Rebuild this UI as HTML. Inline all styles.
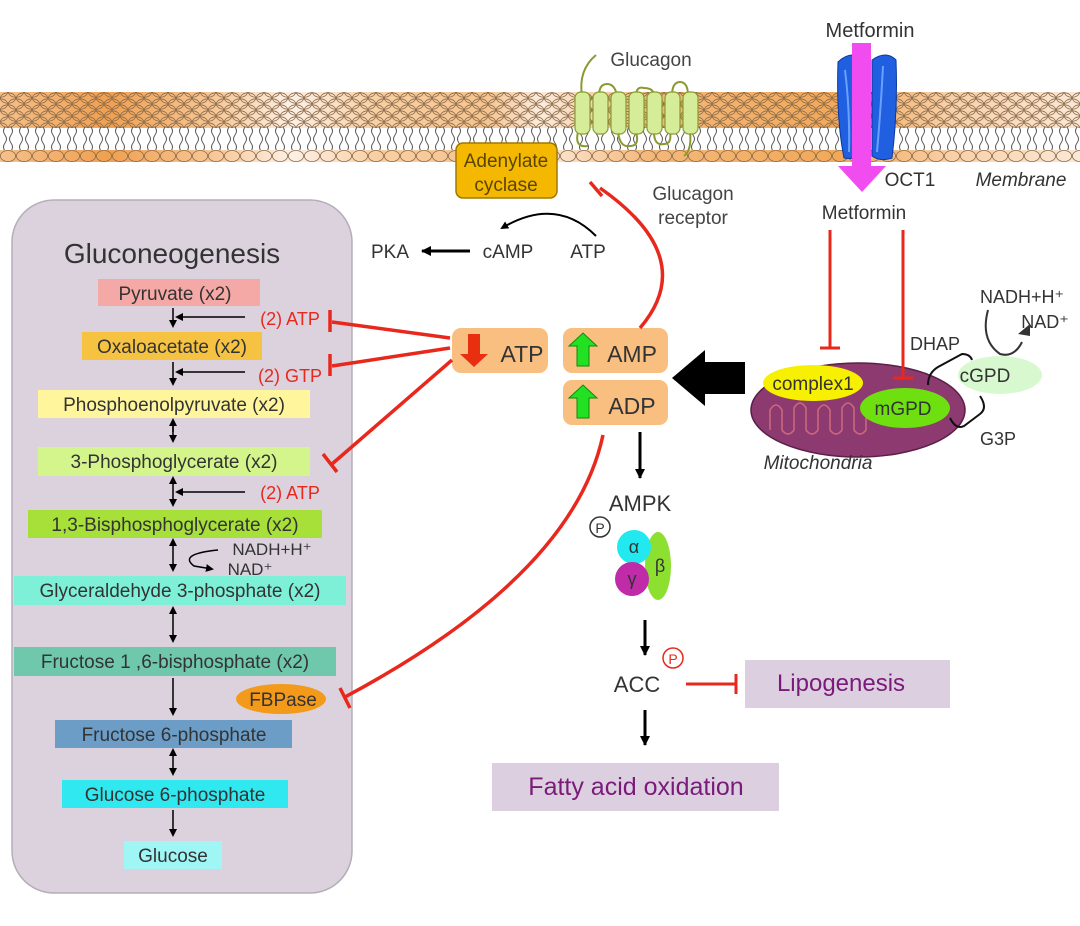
<!DOCTYPE html>
<html><head><meta charset="utf-8"><style>
html,body{margin:0;padding:0;background:#fff;width:1080px;height:926px;overflow:hidden}
svg{display:block}
text{font-family:"Liberation Sans",sans-serif}
</style></head><body>
<svg width="1080" height="926" viewBox="0 0 1080 926" xmlns="http://www.w3.org/2000/svg">
<defs>
<linearGradient id="mg" x1="0" x2="1" y1="0" y2="0">
<stop offset="0" stop-color="#f6c08a"/><stop offset="0.1" stop-color="#f0a050"/><stop offset="0.2" stop-color="#f7c898"/>
<stop offset="0.27" stop-color="#fdf0e6"/><stop offset="0.35" stop-color="#f8cfa2"/><stop offset="0.45" stop-color="#f6c48e"/>
<stop offset="0.5" stop-color="#fcebdc"/><stop offset="0.6" stop-color="#f4b87a"/><stop offset="0.78" stop-color="#f2a858"/>
<stop offset="0.88" stop-color="#f8d0a8"/><stop offset="1" stop-color="#fbe8d6"/></linearGradient>
<pattern id="heads" patternUnits="userSpaceOnUse" width="16" height="12" x="0" y="92">
<ellipse cx="8" cy="6" rx="7.6" ry="5.2" fill="none" stroke="#8a6a4a" stroke-width="0.8"/>
<ellipse cx="0" cy="0" rx="7.6" ry="5.2" fill="none" stroke="#8a6a4a" stroke-width="0.8"/>
<ellipse cx="16" cy="0" rx="7.6" ry="5.2" fill="none" stroke="#8a6a4a" stroke-width="0.8"/>
<ellipse cx="0" cy="12" rx="7.6" ry="5.2" fill="none" stroke="#8a6a4a" stroke-width="0.8"/>
<ellipse cx="16" cy="12" rx="7.6" ry="5.2" fill="none" stroke="#8a6a4a" stroke-width="0.8"/></pattern>
<pattern id="heads2" patternUnits="userSpaceOnUse" width="16" height="12" x="0" y="150">
<ellipse cx="8" cy="6" rx="7.6" ry="5.5" fill="none" stroke="#8a6a4a" stroke-width="0.8"/></pattern>
<pattern id="tails" patternUnits="userSpaceOnUse" width="16" height="24" x="0" y="127">
<path d="M5 0 q-3 4 0 8 q3 4 0 8 q-3 4 0 8 M11 0 q3 4 0 8 q-3 4 0 8 q3 4 0 8" fill="none" stroke="#555" stroke-width="1"/></pattern>
<marker id="ah" markerWidth="8" markerHeight="8" refX="6" refY="4" orient="auto" markerUnits="userSpaceOnUse"><path d="M0 0 L8 4 L0 8 Z" fill="#000"/></marker>
<marker id="ahs" markerWidth="10" markerHeight="10" refX="9" refY="5" orient="auto" markerUnits="userSpaceOnUse"><path d="M0 0 L10 5 L0 10 Z" fill="#000"/></marker>
</defs>

<!-- membrane -->
<rect x="0" y="92" width="1080" height="36" fill="url(#mg)"/>
<rect x="0" y="92" width="1080" height="36" fill="url(#heads)"/>
<rect x="0" y="128" width="1080" height="22" fill="#fff"/>
<rect x="0" y="127" width="1080" height="23" fill="url(#tails)"/>
<rect x="0" y="150" width="1080" height="12" fill="url(#mg)"/>
<rect x="0" y="150" width="1080" height="12" fill="url(#heads2)"/>

<!-- glucagon receptor -->
<g stroke="#8a9a30" stroke-width="2" fill="none">
<path d="M582 96 Q578 70 596 55"/>
<path d="M599 96 q0-12 8-12 q8 0 10 12"/><path d="M636 96 q0-10 8-8 q10 0 10 8"/><path d="M672 96 q0-14 8-14 q8 0 8 14"/>
<path d="M618 132 q2 16 12 14 q10 0 6-14"/><path d="M654 132 q0 14 10 12 q8 0 6-12"/><path d="M690 132 q2 18-6 24"/>
<path d="M578 132 q-4 16 10 14"/>
</g>
<g fill="#d5ec98" stroke="#8a9a30" stroke-width="1.2">
<rect x="575" y="92" width="15" height="42" rx="6"/><rect x="593" y="92" width="15" height="42" rx="6"/><rect x="611" y="92" width="15" height="42" rx="6"/>
<rect x="629" y="92" width="15" height="42" rx="6"/><rect x="647" y="92" width="15" height="42" rx="6"/><rect x="665" y="92" width="15" height="42" rx="6"/><rect x="683" y="92" width="15" height="42" rx="6"/>
</g>
<text x="651" y="66" font-size="19" fill="#444" text-anchor="middle">Glucagon</text>
<text x="693" y="200" font-size="19" fill="#444" text-anchor="middle">Glucagon</text>
<text x="693" y="224" font-size="19" fill="#444" text-anchor="middle">receptor</text>

<!-- adenylate cyclase -->
<rect x="456" y="143" width="101" height="55" rx="7" fill="#f5b800" stroke="#a07800" stroke-width="1.5"/>
<text x="506" y="167" font-size="19" fill="#5a4500" text-anchor="middle">Adenylate</text>
<text x="506" y="191" font-size="19" fill="#5a4500" text-anchor="middle">cyclase</text>

<!-- OCT1 and metformin -->
<text x="870" y="37" font-size="20" fill="#333" text-anchor="middle">Metformin</text>
<path d="M838 62 q10-10 22-6 l0 98 q-5 6-16 4 q-8-40-6-96z" fill="#1f5fe0" stroke="#0a3aa0"/>
<path d="M872 60 q14-10 24 0 q2 50-4 98 q-12 4-20-2z" fill="#1f5fe0" stroke="#0a3aa0"/>
<path d="M845 70 q5 40 4 82" stroke="#6aa0ff" stroke-width="2" fill="none"/>
<path d="M883 66 q-2 40-6 86" stroke="#6aa0ff" stroke-width="2" fill="none"/>
<rect x="852" y="43" width="19" height="125" fill="#f04cf0"/>
<path d="M838 166 L886 166 L862 192 Z" fill="#f04cf0"/>
<text x="910" y="186" font-size="19" fill="#333" text-anchor="middle">OCT1</text>
<text x="1021" y="186" font-size="19" fill="#333" font-style="italic" text-anchor="middle">Membrane</text>
<text x="864" y="219" font-size="19" fill="#333" text-anchor="middle">Metformin</text>

<!-- mitochondria -->
<ellipse cx="858" cy="410" rx="107" ry="47" fill="#8c3a70" stroke="#5a2048" stroke-width="1.5"/>
<path d="M770 430 v-20 q6-10 12 0 v20 q6 8 12 0 v-22 q6-10 12 0 v22 q6 8 12 0 v-20 q6-10 12 0 v20 q6 8 12 0 v-22 q6-10 12 0 v22 q6 8 12 0 v-20" stroke="#d06a7a" stroke-width="1.5" fill="none"/>
<ellipse cx="813" cy="383" rx="50" ry="18" fill="#f7f000"/>
<text x="813" y="390" font-size="19" fill="#333" text-anchor="middle">complex1</text>
<ellipse cx="905" cy="408" rx="45" ry="20" fill="#6ee010"/>
<text x="903" y="415" font-size="19" fill="#333" text-anchor="middle">mGPD</text>
<ellipse cx="1000" cy="375" rx="42" ry="19" fill="#d8f8d0"/>
<text x="985" y="382" font-size="19" fill="#333" text-anchor="middle">cGPD</text>
<text x="935" y="350" font-size="18" fill="#333" text-anchor="middle">DHAP</text>
<text x="998" y="445" font-size="18" fill="#333" text-anchor="middle">G3P</text>
<text x="1022" y="303" font-size="18" fill="#333" text-anchor="middle">NADH+H⁺</text>
<text x="1045" y="328" font-size="18" fill="#333" text-anchor="middle">NAD⁺</text>
<g stroke="#111" stroke-width="2" fill="none">
<path d="M928 385 q0-12 10-18 l24-13 q8 0 10 6"/>
<path d="M950 418 q6 12 14 8 l16-12 q8-6 0-18"/>
</g>
<path d="M988 310 q-8 30 12 44 q14 4 22-12" stroke="#333" stroke-width="2" fill="none"/>
<path d="M1030 336 L1018 334 L1030 324 Z" fill="#333"/>
<text x="818" y="469" font-size="19" fill="#333" font-style="italic" text-anchor="middle">Mitochondria</text>

<!-- red inhibitions from metformin -->
<g stroke="#e8281c" stroke-width="3" fill="none">
<path d="M830 230 V348 M820 348 H840"/>
<path d="M903 230 V378 M893 378 H913"/>
</g>

<!-- big black arrow -->
<path d="M745 362 L705 362 L705 350 L672 378 L705 406 L705 394 L745 394 Z" fill="#000"/>

<!-- ATP / AMP / ADP -->
<rect x="452" y="328" width="96" height="45" rx="9" fill="#f9bf80"/>
<rect x="563" y="328" width="105" height="45" rx="9" fill="#f9bf80"/>
<rect x="563" y="380" width="105" height="45" rx="9" fill="#f9bf80"/>
<path d="M468 334 h12 v20 h8 l-14 13 l-14-13 h8z" fill="#e83010"/>
<path d="M577 366 v-20 h-8 l14-13 l14 13 h-8 v20z" fill="#22e022" stroke="#118811"/>
<path d="M577 418 v-20 h-8 l14-13 l14 13 h-8 v20z" fill="#22e022" stroke="#118811"/>
<text x="522" y="362" font-size="23" fill="#333" text-anchor="middle">ATP</text>
<text x="632" y="362" font-size="23" fill="#333" text-anchor="middle">AMP</text>
<text x="632" y="414" font-size="23" fill="#333" text-anchor="middle">ADP</text>

<!-- PKA cAMP ATP -->
<text x="390" y="258" font-size="19" fill="#333" text-anchor="middle">PKA</text>
<text x="508" y="258" font-size="19" fill="#333" text-anchor="middle">cAMP</text>
<text x="588" y="258" font-size="19" fill="#333" text-anchor="middle">ATP</text>
<g stroke="#000" stroke-width="3" fill="none">
<line x1="350" y1="251" x2="306" y2="251" marker-end="url(#ahs)"/>
<line x1="470" y1="251" x2="422" y2="251" marker-end="url(#ahs)"/>
</g>
<path d="M596 236 q-40-40-94-8" stroke="#000" stroke-width="2" fill="none" marker-end="url(#ah)"/>

<!-- AMPK -->
<line x1="640" y1="432" x2="640" y2="478" stroke="#000" stroke-width="3" marker-end="url(#ahs)"/>
<text x="640" y="511" font-size="22" fill="#333" text-anchor="middle">AMPK</text>
<circle cx="600" cy="527" r="10" fill="none" stroke="#333" stroke-width="1.5"/>
<text x="600" y="533" font-size="14" fill="#333" text-anchor="middle">P</text>
<ellipse cx="658" cy="566" rx="13" ry="34" fill="#8ee030"/>
<circle cx="634" cy="547" r="17" fill="#22e8f0"/>
<circle cx="632" cy="579" r="17" fill="#c02ca8"/>
<text x="634" y="553" font-size="18" fill="#333" text-anchor="middle">α</text>
<text x="632" y="585" font-size="18" fill="#333" text-anchor="middle">γ</text>
<text x="660" y="572" font-size="18" fill="#333" text-anchor="middle">β</text>
<line x1="645" y1="620" x2="645" y2="655" stroke="#000" stroke-width="3" marker-end="url(#ahs)"/>
<text x="637" y="692" font-size="22" fill="#333" text-anchor="middle">ACC</text>
<circle cx="673" cy="658" r="10" fill="none" stroke="#e8281c" stroke-width="1.5"/>
<text x="673" y="664" font-size="14" fill="#e8281c" text-anchor="middle">P</text>
<path d="M686 684 H735 M736 674 V694" stroke="#e8281c" stroke-width="3" fill="none"/>
<rect x="745" y="660" width="205" height="48" fill="#dccfdf"/>
<text x="841" y="691" font-size="24" fill="#7a1a7a" text-anchor="middle">Lipogenesis</text>
<line x1="645" y1="710" x2="645" y2="745" stroke="#000" stroke-width="3" marker-end="url(#ahs)"/>
<rect x="492" y="763" width="287" height="48" fill="#dccfdf"/>
<text x="636" y="795" font-size="25" fill="#7a1a7a" text-anchor="middle">Fatty acid oxidation</text>

<!-- gluconeogenesis panel -->
<rect x="12" y="200" width="340" height="693" rx="42" fill="#dbd2de" stroke="#b5adb8" stroke-width="1.5"/>
<text x="172" y="263" font-size="28" fill="#333" text-anchor="middle">Gluconeogenesis</text>
<g font-size="19" fill="#333" text-anchor="middle">
<rect x="98" y="279" width="162" height="27" fill="#f4a9a6"/><text x="175" y="300">Pyruvate (x2)</text>
<rect x="82" y="332" width="180" height="28" fill="#f5c242"/><text x="172" y="353">Oxaloacetate (x2)</text>
<rect x="38" y="390" width="272" height="28" fill="#fff59d"/><text x="174" y="411">Phosphoenolpyruvate (x2)</text>
<rect x="38" y="447" width="272" height="29" fill="#d4f58c"/><text x="174" y="468">3-Phosphoglycerate (x2)</text>
<rect x="28" y="510" width="294" height="28" fill="#a8e03a"/><text x="175" y="531">1,3-Bisphosphoglycerate (x2)</text>
<rect x="14" y="576" width="332" height="29" fill="#7ff0d8"/><text x="180" y="597">Glyceraldehyde 3-phosphate (x2)</text>
<rect x="14" y="647" width="322" height="29" fill="#6fc7ac"/><text x="175" y="668">Fructose 1 ,6-bisphosphate (x2)</text>
<rect x="55" y="720" width="237" height="28" fill="#6b9dc7"/><text x="174" y="741">Fructose 6-phosphate</text>
<rect x="62" y="780" width="226" height="28" fill="#30e8f0"/><text x="175" y="801">Glucose 6-phosphate</text>
<rect x="124" y="841" width="98" height="28" fill="#a0f5f5"/><text x="173" y="862">Glucose</text>
</g>
<ellipse cx="281" cy="699" rx="45" ry="15" fill="#f39a1a"/>
<text x="283" y="706" font-size="19" fill="#333" text-anchor="middle">FBPase</text>
<g font-size="18" fill="#e8281c" text-anchor="middle">
<text x="290" y="325">(2) ATP</text><text x="290" y="382">(2) GTP</text><text x="290" y="499">(2) ATP</text>
</g>
<text x="272" y="555" font-size="17" fill="#333" text-anchor="middle">NADH+H⁺</text>
<text x="250" y="575" font-size="17" fill="#333" text-anchor="middle">NAD⁺</text>

<g stroke="#000" stroke-width="1.5" fill="none">
<line x1="173" y1="308" x2="173" y2="326" marker-end="url(#ah)"/>
<line x1="245" y1="317" x2="177" y2="317" marker-end="url(#ah)"/>
<line x1="173" y1="362" x2="173" y2="384" marker-end="url(#ah)"/>
<line x1="245" y1="372" x2="177" y2="372" marker-end="url(#ah)"/>
<line x1="173" y1="426" x2="173" y2="441" marker-end="url(#ah)"/><line x1="173" y1="432" x2="173" y2="420" marker-end="url(#ah)"/>
<line x1="173" y1="488" x2="173" y2="505" marker-end="url(#ah)"/><line x1="173" y1="488" x2="173" y2="478" marker-end="url(#ah)"/>
<line x1="245" y1="492" x2="177" y2="492" marker-end="url(#ah)"/>
<line x1="173" y1="552" x2="173" y2="570" marker-end="url(#ah)"/><line x1="173" y1="552" x2="173" y2="540" marker-end="url(#ah)"/>
<path d="M218 550 q-40 4-24 16 l18 3" marker-end="url(#ah)"/>
<line x1="173" y1="620" x2="173" y2="641" marker-end="url(#ah)"/><line x1="173" y1="620" x2="173" y2="608" marker-end="url(#ah)"/>
<line x1="173" y1="678" x2="173" y2="714" marker-end="url(#ah)"/>
<line x1="173" y1="762" x2="173" y2="774" marker-end="url(#ah)"/><line x1="173" y1="762" x2="173" y2="750" marker-end="url(#ah)"/>
<line x1="173" y1="810" x2="173" y2="835" marker-end="url(#ah)"/>
</g>

<!-- red inhibitions from ATP/AMP (on top of panel) -->
<g stroke="#e8281c" stroke-width="3.5" fill="none">
<path d="M640 328 q60-70 -40-140"/><path d="M590 182 l12 14"/>
<path d="M450 338 L332 322"/><path d="M330 310 v22"/>
<path d="M450 348 L332 366"/><path d="M330 354 v22"/>
<path d="M452 360 L332 464"/><path d="M323 454 l14 18"/>
<path d="M603 435 q-30 140 -258 262"/><path d="M340 688 l10 20"/>
</g>
</svg>
</body></html>
